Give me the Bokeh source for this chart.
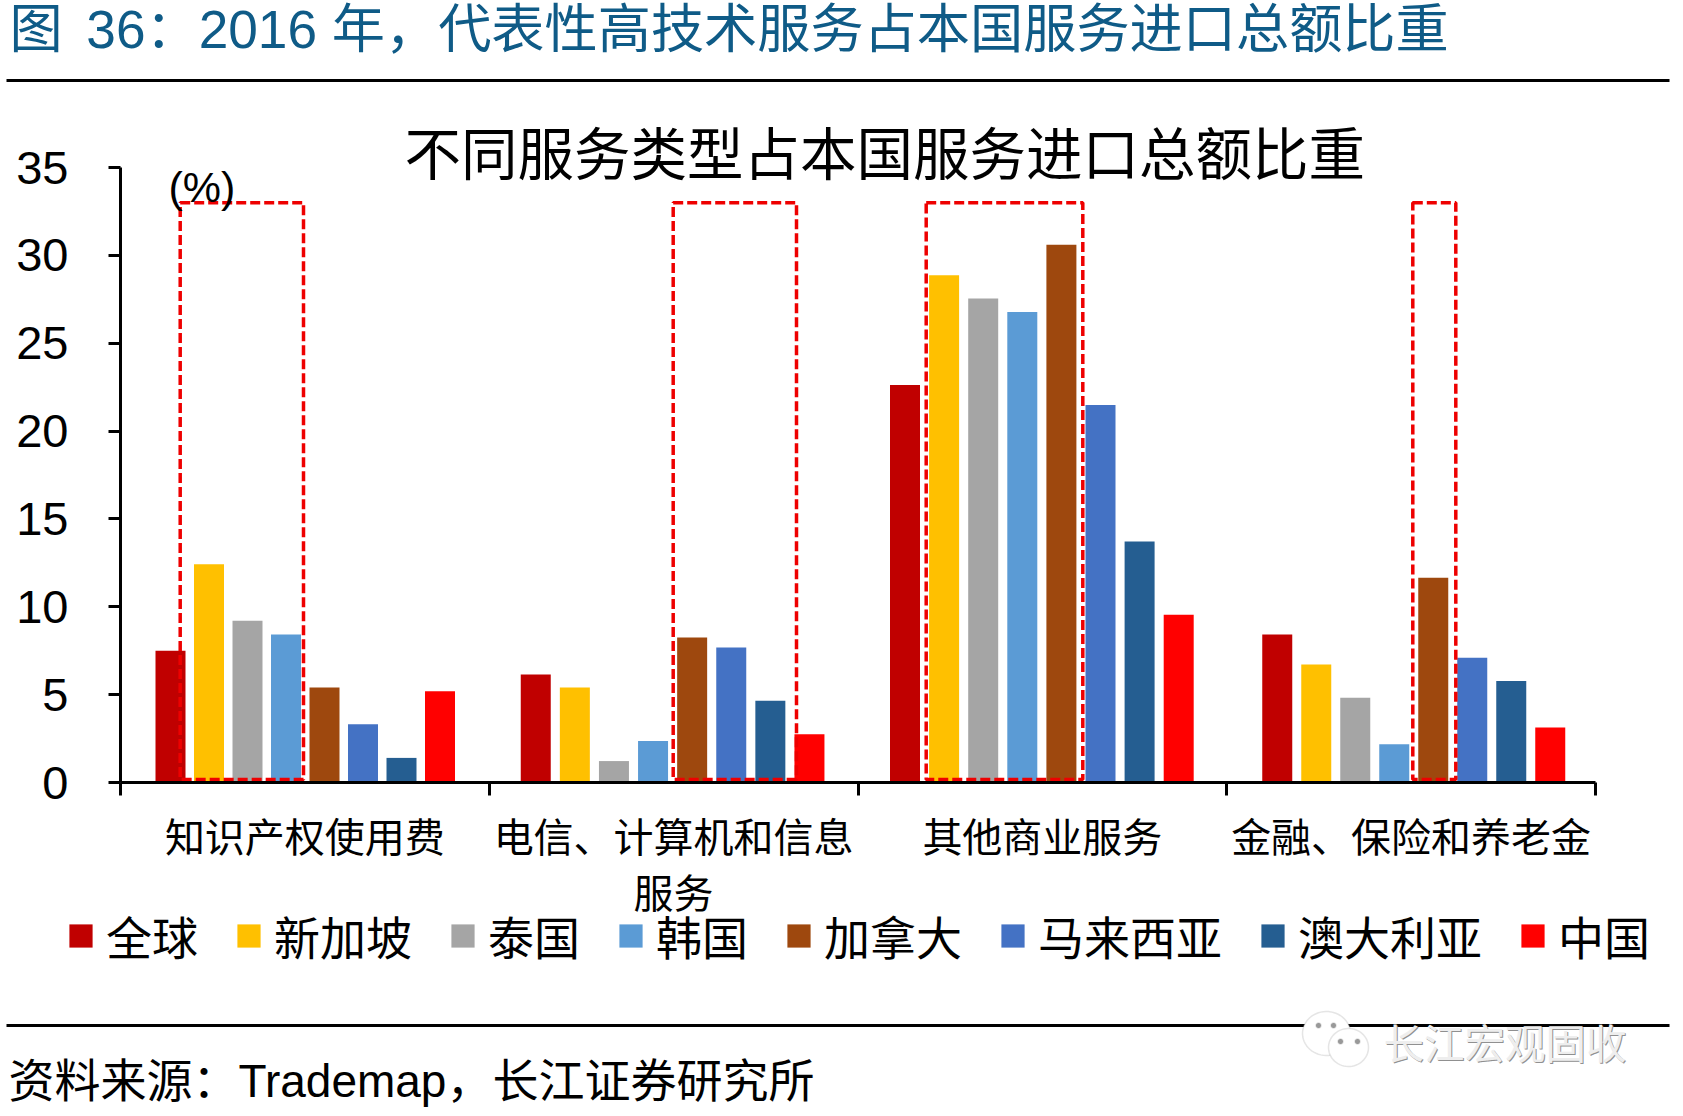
import numpy as np
from bokeh.plotting import figure
from bokeh.embed import file_html
from bokeh.resources import INLINE
from bokeh.models import (FixedTicker, Label, Legend, LegendItem, BoxAnnotation, PolyAnnotation)

categories = ["知识产权使用费", "电信、计算机和信息", "其他商业服务", "金融、保险和养老金"]
series_names = ["全球", "新加坡", "泰国", "韩国", "加拿大", "马来西亚", "澳大利亚", "中国"]
world = [7.5, 6.15, 22.62, 8.42]
singapore = [12.42, 5.4, 28.87, 6.72]
thailand = [9.2, 1.22, 27.55, 4.83]
korea = [8.42, 2.36, 26.78, 2.17]
canada = [5.4, 8.25, 30.6, 11.65]
malaysia = [3.32, 7.68, 21.48, 7.1]
australia = [1.4, 4.65, 13.72, 5.78]
china = [5.2, 2.74, 9.55, 3.13]
y_ticks = [0, 5, 10, 15, 20, 25, 30, 35]
colors = ["#C00000", "#FFC000", "#A5A5A5", "#5B9BD5", "#9E480E", "#4472C4", "#255E91", "#FF0000"]
all_series = [world, singapore, thailand, korea, canada, malaysia, australia, china]

CJK = "Noto Sans CJK SC"
MIX = "Liberation Sans, Noto Sans CJK SC"

W, H = 1675, 1108
X0, X4, Y0, Y35 = 120, 1595, 782, 167   # picture pixels of the plot area
xu = (X4 - X0) / 4
yu = (Y0 - Y35) / 35
# the frame fills the canvas, so texts placed round the plot are not clipped
p = figure(width=W, height=H, x_range=(-X0 / xu, (W - X0) / xu), y_range=((Y0 - H) / yu, Y0 / yu),
           output_backend="svg", toolbar_location=None,
           min_border_left=0, min_border_right=0, min_border_top=0, min_border_bottom=0,
           outline_line_color=None, background_fill_color="white", border_fill_color="white")
p.grid.visible = False

# bars
bar_w = 30 / xu
group_first = [50 / xu, 46.5 / xu, 47 / xu, 50.5 / xu]
group_step = [38.5 / xu, 39.1 / xu, 39.1 / xu, 39 / xu]
renderers = []
for j, (vals, c) in enumerate(zip(all_series, colors)):
    xs = [i + group_first[i] + j * group_step[i] for i in range(4)]
    renderers.append(p.vbar(x=xs, top=vals, bottom=0, width=bar_w, fill_color=c, line_color=None))

# dashed highlight boxes
for l, r in [(179.7, 303), (672.7, 796), (925.7, 1082.3), (1412.3, 1455.3)]:
    p.quad(left=(l - X0) / xu, right=(r - X0) / xu, top=33.0, bottom=0.17,
           fill_color=None, line_color="#EE0000", line_width=3.5, line_dash="10 4")

# axes
xa = p.xaxis[0]
xa.fixed_location = 0
xa.bounds = (0, 4)
xa.ticker = FixedTicker(ticks=[0.5, 1.5, 2.5, 3.5], minor_ticks=[0, 1, 2, 3, 4])
xa.major_label_overrides = {i + 0.5: c for i, c in enumerate(categories)}
xa.major_tick_line_color = None
xa.major_tick_out = 0
xa.major_tick_in = 0
xa.minor_tick_line_color = "black"
xa.minor_tick_line_width = 3
xa.minor_tick_out = 13
xa.minor_tick_in = 0
xa.axis_line_color = "black"
xa.axis_line_width = 3
xa.major_label_text_font = CJK
xa.major_label_text_font_size = "40px"
xa.major_label_text_color = "black"
xa.major_label_standoff = 10

ya = p.yaxis[0]
ya.fixed_location = 0
ya.bounds = (0, 35)
ya.ticker = FixedTicker(ticks=y_ticks)
ya.minor_tick_line_color = None
ya.major_tick_line_color = "black"
ya.major_tick_line_width = 3
ya.major_tick_out = 12
ya.major_tick_in = 0
ya.axis_line_color = "black"
ya.axis_line_width = 3
ya.major_label_text_font = "Liberation Sans"
ya.major_label_text_font_size = "47px"
ya.major_label_text_color = "black"
ya.major_label_standoff = 40

# legend
items = [LegendItem(label=n, renderers=[r]) for n, r in zip(series_names, renderers)]
legend = Legend(items=items, orientation="horizontal", location=(66, H - 968),
                border_line_color=None, background_fill_alpha=0, margin=0, padding=0,
                spacing=36, label_standoff=11, glyph_width=29, glyph_height=29,
                label_text_font=CJK, label_text_font_size="46px", label_text_color="black")
p.add_layout(legend, "center")


def text(x, y, s, size, font=MIX, color="black", align="left"):
    p.add_layout(Label(x=x, y=H - y, x_units="screen", y_units="screen", text=s,
                       text_font=font, text_font_size=f"{size}px", text_color=color,
                       text_align=align, text_baseline="middle"))


def rule(y):
    p.add_layout(BoxAnnotation(left=6, right=1669, top=H - y + 1.5, bottom=H - y - 1.5,
                               left_units="screen", right_units="screen", top_units="screen",
                               bottom_units="screen", fill_color="black", fill_alpha=1,
                               line_color=None))


def bubble(cx, cy, rx, ry, fill="white", line="#A8A8A8"):
    t = np.linspace(0, 2 * np.pi, 60)
    p.add_layout(PolyAnnotation(xs=list(cx + rx * np.cos(t)), ys=list(H - cy + ry * np.sin(t)),
                                xs_units="screen", ys_units="screen", fill_color=fill, fill_alpha=1,
                                line_color=line, line_width=1.5))


text(9, 29, "图 \u200636：2016 年，代表性高技术服务占本国服务进口总额比重", 53.2, color="#0F5B87")
rule(80)
text(404, 149, "不同服务类型占本国服务进口总额比重", 56.5, font=CJK)
text(168, 186, "(%)", 43, font="Liberation Sans")
text(673, 890, "服务", 40, font=CJK, align="center")
rule(1025)
text(8, 1080, "资料来源：Trademap，长江证券研究所", 46)

# watermark
bubble(1326, 1033, 24, 22)
bubble(1348, 1047, 20, 19)
for ex, ey in [(1318, 1025), (1333, 1025), (1340, 1041), (1357, 1041)]:
    bubble(ex, ey, 2.5, 2.5, fill="#999999", line="#999999")
text(1384, 1042, "长江宏观固收", 40.5, font=CJK, color="#909090")
text(1383, 1041, "长江宏观固收", 40.5, font=CJK, color="#EEEEEE")

open("out.html", "w").write(file_html(p, INLINE))
